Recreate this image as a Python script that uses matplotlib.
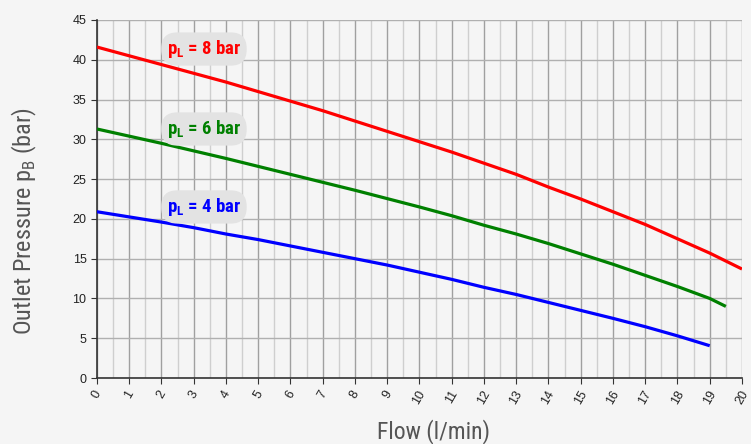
import matplotlib
matplotlib.use("Agg")
import matplotlib.pyplot as plt
from matplotlib.ticker import MultipleLocator

# -- data --
flow_8 = [0, 1, 2, 3, 4, 5, 6, 7, 8, 9, 10, 11, 12, 13, 14, 15, 16, 17, 18, 19, 20]
pres_8 = [41.6, 40.5, 39.4, 38.3, 37.2, 36.0, 34.8, 33.6, 32.3, 31.0, 29.7,
          28.4, 27.0, 25.6, 24.0, 22.5, 20.9, 19.3, 17.5, 15.7, 13.7]
flow_6 = [0, 1, 2, 3, 4, 5, 6, 7, 8, 9, 10, 11, 12, 13, 14, 15, 16, 17, 18, 19, 19.5]
pres_6 = [31.3, 30.4, 29.5, 28.55, 27.6, 26.6, 25.6, 24.6, 23.6, 22.55, 21.5,
          20.4, 19.2, 18.1, 16.9, 15.6, 14.3, 12.9, 11.5, 10.0, 9.0]
flow_4 = [0, 1, 2, 3, 4, 5, 6, 7, 8, 9, 10, 11, 12, 13, 14, 15, 16, 17, 18, 19]
pres_4 = [20.9, 20.25, 19.6, 18.9, 18.1, 17.4, 16.6, 15.8, 15.0, 14.2, 13.3,
          12.4, 11.4, 10.5, 9.5, 8.5, 7.5, 6.45, 5.3, 4.06]

labels = ["8", "6", "4"]
label_y = [41.35, 31.3, 21.5]
colors = ["#ff0000", "#008000", "#0000ff"]

narrow = ["Roboto Condensed", "DejaVu Sans"]
bg = "#f5f5f5"

plt.rcParams["font.family"] = ["Liberation Sans", "DejaVu Sans"]

fig = plt.figure(figsize=(7.51, 4.44), dpi=100, facecolor=bg)
ax = fig.add_axes([0.129, 0.1486, 0.859, 0.8064], facecolor=bg)

for fx, py, c in zip([flow_8, flow_6, flow_4], [pres_8, pres_6, pres_4], colors):
    ax.plot(fx, py, color=c, lw=2.3, solid_capstyle="butt",
            solid_joinstyle="round", zorder=3)

for lab, ly, c in zip(labels, label_y, colors):
    ax.text(3.32, ly, r"p$_{\mathregular{L}}$ = " + lab + " bar", color=c,
            family=narrow, stretch="condensed", fontweight="bold", fontsize=13.5,
            ha="center", va="center", zorder=4,
            bbox=dict(boxstyle="round,pad=0.3,rounding_size=0.85",
                      fc="#e3e3e3", ec="none"))

ax.set_xlim(0, 20)
ax.set_ylim(0, 45)
ax.xaxis.set_major_locator(MultipleLocator(1))
ax.xaxis.set_minor_locator(MultipleLocator(0.5))
ax.yaxis.set_major_locator(MultipleLocator(5))
ax.grid(which="major", axis="x", color="#a0a0a0", lw=1.0)
ax.grid(which="minor", axis="x", color="#cfcfcf", lw=1.0)
ax.grid(which="major", axis="y", color="#b0b0b0", lw=1.0)
ax.set_axisbelow(True)

for s in ["top", "right"]:
    ax.spines[s].set_visible(False)
for s in ["left", "bottom"]:
    ax.spines[s].set_color("#333333")
    ax.spines[s].set_linewidth(1.2)

ax.tick_params(axis="both", which="major", length=4, color="#333333",
               labelsize=9, labelcolor="#222222")
ax.tick_params(axis="x", which="minor", length=0)
plt.setp(ax.get_xticklabels(), rotation=60, ha="center", va="top")

ax.set_xlabel("Flow (l/min)", family=narrow, stretch="condensed", fontsize=17,
              color="#555555")
ax.set_ylabel(r"Outlet Pressure p$_{\mathregular{B}}$ (bar)", family=narrow,
              stretch="condensed", fontsize=17.5, color="#555555")
ax.xaxis.set_label_coords(0.522, -0.115)
ax.yaxis.set_label_coords(-0.09, 0.4385)

fig.savefig("out.png", dpi=100, facecolor=bg)
